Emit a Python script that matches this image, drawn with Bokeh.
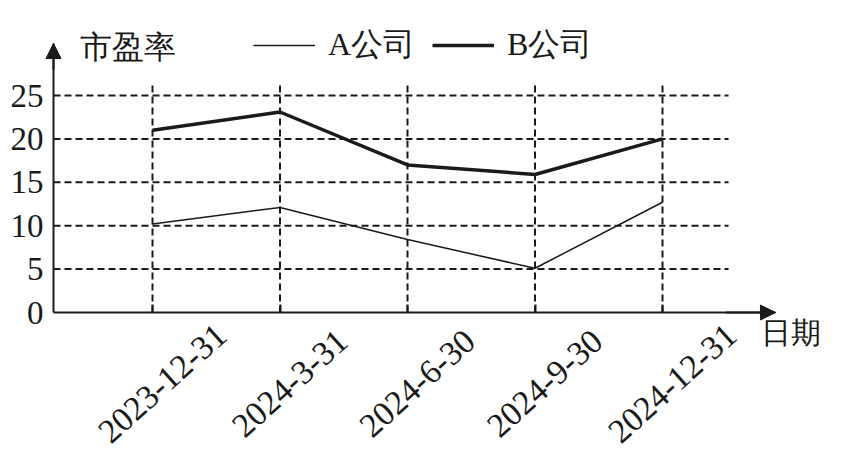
import math
from bokeh.plotting import figure
from bokeh.models import (Range1d, FixedTicker, LinearAxis, ColumnDataSource,
                          Label, Arrow, NormalHead, Legend, LegendItem)
from bokeh.core.properties import value
from bokeh.embed import file_html
from bokeh.resources import INLINE

# ---- data ----
dates = ["2023-12-31", "2024-3-31", "2024-6-30", "2024-9-30", "2024-12-31"]
pe_a = [10.2, 12.1, 8.4, 5.1, 12.7]
pe_b = [21.0, 23.1, 17.0, 15.9, 20.0]
y_ticks = [0, 5, 10, 15, 20, 25]
grid_levels = [5, 10, 15, 20, 25]
series_names = ["A公司", "B公司"]
y_title = "市盈率"
x_title = "日期"

# ---- style ----
SERIF = "Liberation Serif"
INK = "#1a1a1a"
DASH = "7 4"

idx = list(range(len(dates)))

# view window (data units) and axis placement
X0, X1 = -1.1922, 5.3725
Y0, Y1 = -16.244, 35.945
AX = -0.7765          # x where the vertical axis sits
AX_END = 4.886        # tip of the horizontal axis arrow
AY_END = 30.99        # tip of the vertical axis arrow
GRID_X_END = 4.518
GRID_Y_TOP = 26.2

p = figure(width=837, height=453, output_backend="svg", toolbar_location=None,
           x_range=Range1d(X0, X1), y_range=Range1d(Y0, Y1),
           min_border=0, x_axis_type=None, y_axis_type=None)
p.outline_line_color = None
p.background_fill_color = "white"
p.border_fill_color = "white"

# axes
yaxis = LinearAxis(ticker=FixedTicker(ticks=y_ticks), fixed_location=AX, bounds=(0, AY_END),
                   major_tick_in=0, major_tick_out=0,
                   minor_tick_line_color=None, axis_line_width=2, axis_line_color=INK,
                   major_label_text_font=SERIF, major_label_text_font_size="33px",
                   major_label_standoff=10, major_label_text_color=INK)
p.add_layout(yaxis, "left")

xaxis = LinearAxis(ticker=FixedTicker(ticks=idx), fixed_location=0, bounds=(AX, AX_END),
                   major_tick_in=8, major_tick_out=0,
                   major_tick_line_width=2, major_tick_line_color=INK,
                   minor_tick_line_color=None, axis_line_width=2, axis_line_color=INK,
                   major_label_overrides={i: "" for i in idx}, major_label_standoff=0)
p.add_layout(xaxis, "below")

# dashed grid
p.segment(x0=[AX] * len(grid_levels), y0=grid_levels, x1=[GRID_X_END] * len(grid_levels),
          y1=grid_levels, line_dash=DASH, line_width=2, line_color=INK)
p.segment(x0=idx, y0=[0] * len(idx), x1=idx, y1=[GRID_Y_TOP] * len(idx),
          line_dash=DASH, line_width=2, line_color=INK)

# series
la = p.line(idx, pe_a, line_width=1.5, line_color=INK)
lb = p.line(idx, pe_b, line_width=3.5, line_color=INK)

legend = Legend(items=[LegendItem(label=series_names[0], renderers=[la]),
                       LegendItem(label=series_names[1], renderers=[lb])],
                orientation="horizontal", location=(253, 386),
                label_text_font=SERIF, label_text_font_size="32px", label_text_color=INK,
                glyph_width=62, label_standoff=13, spacing=17, padding=0, margin=0,
                border_line_alpha=0, background_fill_alpha=0)
p.add_layout(legend)

# date labels
src = ColumnDataSource(dict(x=idx, y=[0] * len(idx), text=dates))
p.text(x="x", y="y", text="text", source=src, angle=math.radians(42),
       text_align="center", text_baseline="middle", x_offset=10, y_offset=71,
       text_font=value(SERIF), text_font_size="34px", text_color=INK)

# axis titles
p.add_layout(Label(x=-0.5725, y=30.645, text=y_title, text_align="left", text_baseline="middle",
                   text_font=SERIF, text_font_size="32px", text_color=INK))
p.add_layout(Label(x=4.7686, y=-2.304, text=x_title, text_align="left", text_baseline="middle",
                   text_font=SERIF, text_font_size="30px", text_color=INK))

# arrow heads
p.add_layout(Arrow(x_start=AX, y_start=28.0, x_end=AX, y_end=AY_END, line_width=2, line_color=INK,
                   end=NormalHead(size=15, fill_color=INK, line_color=INK)))
p.add_layout(Arrow(x_start=4.5, y_start=0, x_end=AX_END, y_end=0, line_width=2, line_color=INK,
                   end=NormalHead(size=15, fill_color=INK, line_color=INK)))

open("out.html", "w").write(file_html(p, INLINE))
